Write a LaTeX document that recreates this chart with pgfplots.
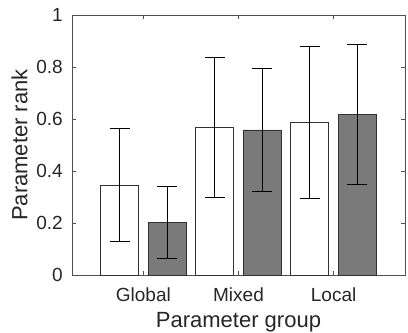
\documentclass[border=0pt]{standalone}
\usepackage{fontspec}
\setmainfont{Liberation Sans}
\usepackage{pgfplots}
\pgfplotsset{compat=1.18}
\definecolor{barfill}{RGB}{122,122,122}
\definecolor{edge}{RGB}{50,50,50}
\definecolor{axcol}{RGB}{80,80,80}
\begin{document}
\begin{tikzpicture}
\useasboundingbox (-72bp,-58bp) rectangle (336bp,275bp);
\begin{axis}[
  at={(0,0)}, anchor=south west,
  scale only axis, width=333bp, height=260bp,
  ybar,
  xmin=0.25, xmax=3.75, ymin=0, ymax=1,
  xtick={1,2,3}, xticklabels={Global,Mixed,Local},
  ytick={0,0.2,0.4,0.6,0.8,1},
  tick align=inside, major tick length=4bp,
  axis line style={axcol, line width=0.8pt},
  every tick/.style={axcol, line width=0.8pt},
  /pgf/number format/assume math mode=true,
  tick label style={font=\fontsize{19bp}{22bp}\selectfont, text=black!85},
  xticklabel style={anchor=base, yshift=-26.7bp, inner sep=0pt},
  yticklabel style={anchor=east, inner sep=0pt, xshift=-9bp},
  label style={font=\fontsize{22bp}{26bp}\selectfont, text=black!85},
  xlabel={Parameter group},
  xlabel style={at={(axis description cs:0.5,0)}, anchor=base, yshift=-52bp, inner sep=0pt},
  ylabel={Parameter rank},
  ylabel style={at={(axis description cs:-0.1577,0.5)}, anchor=center, inner sep=0pt},
  bar width=0.4,
  error bars/y dir=both, error bars/y explicit,
  error bars/error bar style={black, line width=0.8pt},
  error bars/error mark options={black, line width=0.8pt, mark size=10bp, rotate=90},
]
\addplot[bar shift=-0.25, fill=white, draw=edge, line width=0.8pt]
  coordinates {(1,0.346) +- (0,0.218) (2,0.568) +- (0,0.270) (3,0.587) +- (0,0.291)};
\addplot[bar shift=0.25, fill=barfill, draw=edge, line width=0.8pt]
  coordinates {(1,0.201) +- (0,0.139) (2,0.558) +- (0,0.238) (3,0.619) +- (0,0.269)};
\end{axis}
\end{tikzpicture}
\end{document}
